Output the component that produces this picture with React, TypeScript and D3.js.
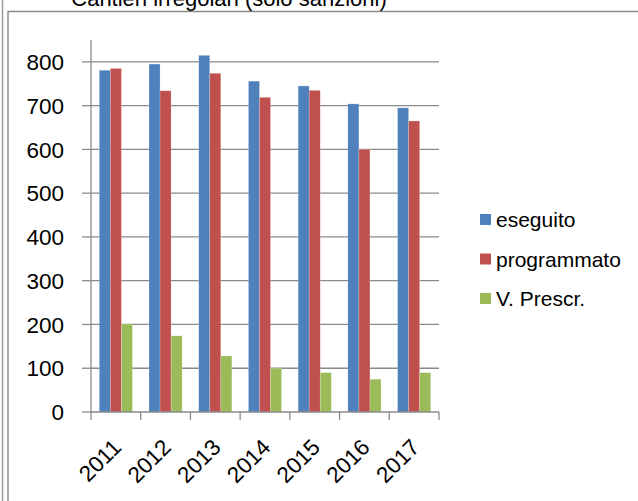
import React from "react";
import * as d3 from "d3";

const years = ["2011", "2012", "2013", "2014", "2015", "2016", "2017"];
const eseguito = [781, 795, 815, 756, 745, 704, 695];
const programmato = [785, 734, 774, 719, 735, 600, 665];
const prescr = [201, 174, 128, 100, 90, 75, 90];
const seriesNames = ["eseguito", "programmato", "V. Prescr."];
const seriesColors = ["#4F81BD", "#C0504D", "#9BBB59"];
const yTicks = [0, 100, 200, 300, 400, 500, 600, 700, 800];

const W = 638;
const H = 501;
const FONT = "'Liberation Sans', Arial, sans-serif";

export default function App() {
  const series = [eseguito, programmato, prescr];
  const plotLeft = 91;
  const plotRight = 439;
  const plotTop = 40;
  const plotBottom = 412;

  const x = d3.scaleBand<string>().domain(years).range([plotLeft, plotRight]).paddingInner(0).paddingOuter(0);
  const y = d3.scaleLinear().domain([0, 850]).range([plotBottom, plotTop]);
  const band = x.bandwidth();
  const barW = band / (3 + 1.5);
  const gap = band - barW * 3;
  const inner = d3.scaleBand<number>().domain([0, 1, 2]).range([gap / 2, band - gap / 2]);

  const boundaries = d3.range(years.length + 1).map((i) => plotLeft + i * band);

  return (
    <svg width={W} height={H} style={{ position: "absolute", left: 0, top: 0, background: "#fff" }}>
      <rect x={0} y={0} width={W} height={H} fill="#fff" />
      {/* frame */}
      <line x1={2.5} x2={2.5} y1={0} y2={H} stroke="#9a9a9a" strokeWidth={1.5} />
      <rect x={8} y={11.5} width={W} height={H} fill="none" stroke="#8c8c8c" strokeWidth={1.5} />

      {/* title */}
      <text x={229} y={5.5} textAnchor="middle" fontFamily={FONT} fontSize={22} fill="#000">
        Cantieri irregolari (solo sanzioni)
      </text>

      {/* gridlines */}
      {yTicks.filter((t) => t > 0).map((t) => (
        <line key={t} x1={plotLeft} x2={plotRight} y1={y(t)} y2={y(t)} stroke="#8a8a8a" strokeWidth={1.3} />
      ))}

      {/* bars */}
      {years.map((yr, i) =>
        series.map((vals, s) => (
          <rect
            key={yr + s}
            x={(x(yr) as number) + (inner(s) as number)}
            y={y(vals[i])}
            width={inner.bandwidth()}
            height={plotBottom - y(vals[i])}
            fill={seriesColors[s]}
            stroke="rgba(255,255,255,0.35)"
            strokeWidth={0.6}
          />
        ))
      )}

      {/* y axis */}
      <line x1={plotLeft} x2={plotLeft} y1={plotTop} y2={plotBottom} stroke="#8a8a8a" strokeWidth={1.3} />
      {yTicks.map((t) => (
        <g key={t}>
          <line x1={plotLeft - 9} x2={plotLeft} y1={y(t)} y2={y(t)} stroke="#8a8a8a" strokeWidth={1.3} />
          <text x={64} y={y(t)} dy="0.36em" textAnchor="end" fontFamily={FONT} fontSize={22.5} fill="#000">
            {t}
          </text>
        </g>
      ))}

      {/* x axis */}
      <line x1={plotLeft} x2={plotRight} y1={plotBottom} y2={plotBottom} stroke="#8a8a8a" strokeWidth={1.3} />
      {boundaries.map((bx, i) => (
        <line key={i} x1={bx} x2={bx} y1={plotBottom} y2={plotBottom + 8} stroke="#8a8a8a" strokeWidth={1.3} />
      ))}
      {years.map((yr) => {
        const cx = (x(yr) as number) + band / 2;
        return (
          <text
            key={yr}
            transform={`translate(${cx + 1},${plotBottom + 31}) rotate(-45)`}
            textAnchor="end"
            dy="0.36em"
            fontFamily={FONT}
            fontSize={22.5}
            fill="#000"
          >
            {yr}
          </text>
        );
      })}

      {/* legend */}
      {seriesNames.map((name, s) => {
        const cy = 219.5 + s * 39.5;
        return (
          <g key={name}>
            <rect x={480} y={cy - 5.5} width={11} height={11} fill={seriesColors[s]} />
            <text x={496} y={cy} dy="0.36em" fontFamily={FONT} fontSize={21} fill="#000">
              {name}
            </text>
          </g>
        );
      })}
    </svg>
  );
}
